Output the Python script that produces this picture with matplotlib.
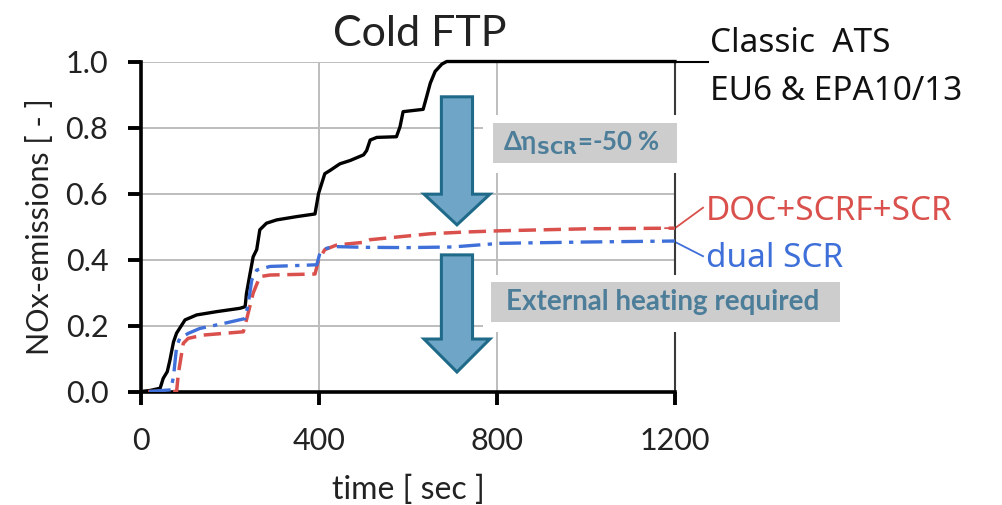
import matplotlib
matplotlib.use('Agg')
import matplotlib.pyplot as plt
from matplotlib.patches import Polygon, Rectangle

# courbes (temps en s, NOx normalise)
t_classic = [0, 20, 43, 50, 59, 65, 73, 80, 99, 125, 170, 222, 234, 237, 245, 252, 260, 267,
             282, 305, 350, 391, 399, 406, 413, 425, 447, 470, 500, 507, 515, 530, 574, 582,
             589, 634, 642, 650, 661, 676, 687, 1200]
nox_classic = [0.0, 0.003, 0.01, 0.04, 0.06, 0.095, 0.15, 0.177, 0.217, 0.232, 0.242, 0.252,
               0.257, 0.297, 0.357, 0.408, 0.43, 0.49, 0.51, 0.52, 0.53, 0.538, 0.6, 0.63, 0.66,
               0.67, 0.69, 0.70, 0.717, 0.73, 0.762, 0.77, 0.772, 0.802, 0.848, 0.855, 0.894,
               0.934, 0.97, 0.992, 1.0, 1.0]

t_scrf = [16, 80, 84, 95, 106, 140, 230, 237, 252, 267, 290, 391, 399, 413, 440, 500, 515,
          582, 650, 724, 807, 1000, 1200]
nox_scrf = [0.0, 0.0, 0.055, 0.146, 0.161, 0.171, 0.181, 0.217, 0.298, 0.348, 0.353, 0.356,
            0.398, 0.43, 0.444, 0.452, 0.46, 0.469, 0.478, 0.483, 0.487, 0.493, 0.495]

t_dual = [18, 67, 73, 80, 87, 106, 132, 185, 234, 241, 249, 260, 290, 335, 395, 402, 417, 440,
          500, 600, 700, 807, 1000, 1200]
nox_dual = [0.0, 0.005, 0.045, 0.136, 0.161, 0.176, 0.191, 0.206, 0.221, 0.267, 0.338, 0.368,
            0.379, 0.381, 0.384, 0.419, 0.434, 0.439, 0.437, 0.436, 0.438, 0.449, 0.453, 0.456]

x_ticks = [0, 400, 800, 1200]
y_ticks = [0.0, 0.2, 0.4, 0.6, 0.8, 1.0]

police = ['Lato', 'DejaVu Sans']
plt.rcParams['font.family'] = police

fig = plt.figure(figsize=(10.03, 5.05), dpi=100)
ax = fig.add_axes([141 / 1003, 1 - 391.5 / 505, 534 / 1003, 330 / 505])
ax.set_xlim(0, 1200)
ax.set_ylim(0, 1.0)
ax.set_xticks(x_ticks)
ax.set_yticks(y_ticks)
ax.set_xticklabels([str(v) for v in x_ticks])
ax.set_yticklabels(['%.1f' % v for v in y_ticks])
ax.tick_params(direction='out', length=9.5, width=2.8, labelsize=22, pad=14, colors='black')
ax.tick_params(axis='x', pad=16)
for lbl in ax.get_xticklabels() + ax.get_yticklabels():
    lbl.set_color('#222222')

ax.grid(True, color='#bdbdbd', lw=1.4, zorder=0)
ax.set_axisbelow(True)
ax.spines['left'].set_linewidth(2.6)
ax.spines['bottom'].set_linewidth(2.6)
ax.spines['top'].set_visible(False)
ax.spines['right'].set_color('#3a3a3a')
ax.spines['right'].set_linewidth(1.5)

ax.plot(t_classic, nox_classic, color='black', lw=2.4, clip_on=False, zorder=3)
ax.plot(t_scrf, nox_scrf, color='#d9504c', lw=2.5, dashes=(5, 2.2), zorder=3)
ax.plot(t_dual, nox_dual, color='#3f6fd8', lw=2.4, dashes=(6.5, 2.2, 1.3, 2.2), zorder=3)

# traits de renvoi vers les etiquettes
ax.plot([1200, 1274], [1.0, 1.0], color='black', lw=1.5, clip_on=False)
ax.plot([1178, 1200, 1263], [0.495, 0.495, 0.557], color='#d9504c', lw=1.3, clip_on=False)
ax.plot([1196, 1263], [0.456, 0.410], color='#3f6fd8', lw=1.3, clip_on=False)

# cadres gris avec marge blanche
for (x0, x1, y0, y1) in [(769, 1593, 0.662, 0.838), (769, 1593, 0.180, 0.353)]:
    ax.add_patch(Rectangle((x0, y0), x1 - x0, y1 - y0, facecolor='white', edgecolor='none',
                           clip_on=False, zorder=4))
for (x0, x1, y0, y1) in [(791, 1205, 0.692, 0.814), (787, 1571, 0.211, 0.332)]:
    ax.add_patch(Rectangle((x0, y0), x1 - x0, y1 - y0, facecolor='#cdcdcd', edgecolor='none',
                           clip_on=False, zorder=5))

bleu_txt = '#4c7d99'
ax.text(813, 0.753, r'Δη$_{\mathbf{SCR}}$=-50 %', color=bleu_txt, fontsize=18.5,
        fontweight='bold', va='center', ha='left', zorder=6, family=police)
ax.text(820, 0.271, 'External heating required', color=bleu_txt, fontsize=20,
        fontweight='bold', va='center', ha='left', zorder=6)


def fleche(xc, y_haut, y_col, y_pointe, demi_tige, demi_tete):
    pts = [(xc - demi_tige, y_haut), (xc + demi_tige, y_haut), (xc + demi_tige, y_col),
           (xc + demi_tete, y_col), (xc, y_pointe), (xc - demi_tete, y_col),
           (xc - demi_tige, y_col)]
    ax.add_patch(Polygon(pts, closed=True, facecolor='#6fa5c6', edgecolor='#1f6a89', lw=2.2,
                         joinstyle='miter', clip_on=False, zorder=7))


fleche(710, 0.893, 0.598, 0.505, 35, 74)
fleche(710, 0.414, 0.159, 0.059, 35, 74)

ax.set_xlabel('time [ sec ]', fontsize=23, color='#222222', labelpad=14)
ax.set_ylabel('NOx-emissions [ - ]', fontsize=22, color='#222222', labelpad=8)

fig.text(420 / 1003, 1 - 46 / 505, 'Cold FTP', fontsize=31, color='#222222', ha='center',
         va='baseline')

etiq = ['Noto Sans', 'DejaVu Sans']
fig.text(710 / 1003, 1 - 52 / 505, 'Classic  ATS', fontsize=24, color='#111111',
         va='baseline', family=etiq)
fig.text(710 / 1003, 1 - 100 / 505, 'EU6 & EPA10/13', fontsize=24, color='#111111',
         va='baseline', family=etiq)
fig.text(706 / 1003, 1 - 220 / 505, 'DOC+SCRF+SCR', fontsize=24, color='#d9504c',
         va='baseline', family=etiq)
fig.text(706 / 1003, 1 - 267 / 505, 'dual SCR', fontsize=24, color='#3f6fd8',
         va='baseline', family=etiq)

fig.savefig('out.png', dpi=100)
